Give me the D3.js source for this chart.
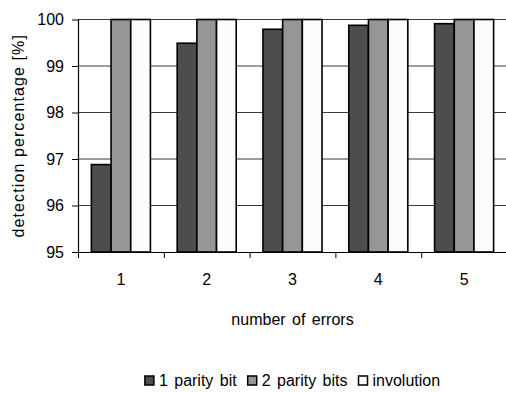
<!DOCTYPE html>
<html>
<head>
<meta charset="utf-8">
<script src="https://cdn.jsdelivr.net/npm/d3@7"></script>
<style>
  body { margin: 0; background: #fff; }
  text { font-family: "Liberation Sans", Arial, sans-serif; fill: #000; }
</style>
</head>
<body>
<script>
// data
var categories = ["1", "2", "3", "4", "5"];
var seriesNames = ["1 parity bit", "2 parity bits", "involution"];
var onePartiy = [96.88, 99.49, 99.79, 99.875, 99.91];
var twoParity = [100, 100, 100, 100, 100];
var involution = [100, 100, 100, 100, 100];
var yTicks = [95, 96, 97, 98, 99, 100];
var colors = ["#4d4d4d", "#969696", "#fcfcfc"];

var seriesValues = [onePartiy, twoParity, involution];

var W = 506, H = 393;
var margin = { top: 19.5, right: -1, bottom: 141, left: 78 },
    width = W - margin.left - margin.right,
    height = H - margin.top - margin.bottom;

var svg = d3.select("body").append("svg")
    .attr("width", W)
    .attr("height", H);

var g = svg.append("g")
    .attr("transform", "translate(" + margin.left + "," + margin.top + ")");

var x0 = d3.scaleBand()
    .domain(categories)
    .range([0, width])
    .padding(0);

var x1 = d3.scaleBand()
    .domain(seriesNames)
    .range([0, x0.bandwidth()])
    .paddingInner(0)
    .paddingOuter(0.68);

var y = d3.scaleLinear()
    .domain([95, 100])
    .range([height, 0]);

// gridlines
g.selectAll(".grid")
    .data(yTicks.filter(function (d) { return d > 95; }))
    .enter().append("line")
    .attr("class", "grid")
    .attr("x1", 0)
    .attr("x2", width)
    .attr("y1", function (d) { return y(d); })
    .attr("y2", function (d) { return y(d); })
    .attr("stroke", "#3a3a3a")
    .attr("stroke-width", 1);

// bars
var rows = [];
categories.forEach(function (c, i) {
    seriesNames.forEach(function (s, j) {
        rows.push({ cat: c, series: s, value: seriesValues[j][i], color: colors[j] });
    });
});

g.selectAll(".bar")
    .data(rows)
    .enter().append("rect")
    .attr("class", "bar")
    .attr("x", function (d) { return x0(d.cat) + x1(d.series); })
    .attr("y", function (d) { return y(d.value); })
    .attr("width", x1.bandwidth())
    .attr("height", function (d) { return height - y(d.value); })
    .attr("fill", function (d) { return d.color; })
    .attr("stroke", "#000")
    .attr("stroke-width", 1.6);

// y axis
var yAxis = g.append("g")
    .attr("class", "y-axis")
    .call(d3.axisLeft(y).tickValues(yTicks).tickSize(6).tickPadding(8).tickFormat(d3.format("d")));
yAxis.select(".domain").attr("stroke", "#000").attr("stroke-width", 1.2)
    .attr("d", "M0.5," + y(100) + "V" + y(95));
yAxis.selectAll(".tick line").attr("stroke", "#000");
yAxis.selectAll("text")
    .style("font-size", "16px")
    .style("font-family", "Liberation Sans, Arial, sans-serif");

// x axis
var xAxis = g.append("g")
    .attr("class", "x-axis")
    .attr("transform", "translate(0," + height + ")")
    .call(d3.axisBottom(x0).tickSize(0).tickPadding(22));
xAxis.select(".domain").attr("stroke", "#000").attr("stroke-width", 1.2)
    .attr("d", "M0," + 0.5 + "H" + width);
xAxis.selectAll("text")
    .style("font-size", "16px")
    .style("font-family", "Liberation Sans, Arial, sans-serif");

// tick marks at category boundaries
g.selectAll(".xtick")
    .data(categories)
    .enter().append("line")
    .attr("class", "xtick")
    .attr("x1", function (d) { return x0(d) + 0.5; })
    .attr("x2", function (d) { return x0(d) + 0.5; })
    .attr("y1", height)
    .attr("y2", height + 6)
    .attr("stroke", "#000");

// axis titles
svg.append("text")
    .attr("transform", "translate(24," + (margin.top + height / 2) + ") rotate(-90)")
    .attr("text-anchor", "middle")
    .style("font-size", "16px")
    .style("letter-spacing", "1.1px")
    .text("detection percentage [%]");

svg.append("text")
    .attr("x", margin.left + width / 2)
    .attr("y", 325)
    .attr("text-anchor", "middle")
    .style("font-size", "16px")
    .style("word-spacing", "2px")
    .text("number of errors");

// legend
var legend = svg.append("g").attr("class", "legend");
var lx = 0;
seriesNames.forEach(function (s, i) {
    var item = legend.append("g").attr("transform", "translate(" + lx + ",0)");
    item.append("rect")
        .attr("x", 0)
        .attr("y", -10)
        .attr("width", 9)
        .attr("height", 9)
        .attr("fill", colors[i])
        .attr("stroke", "#000")
        .attr("stroke-width", 1.5);
    var t = item.append("text")
        .attr("x", 14)
        .attr("y", 0)
        .style("font-size", "16px")
        .style("word-spacing", "2px")
        .text(s);
    lx += 14 + t.node().getComputedTextLength() + 11;
});
lx -= 11;
legend.attr("transform", "translate(" + (margin.left + width / 2 - lx / 2) + ",386)");
</script>
</body>
</html>
